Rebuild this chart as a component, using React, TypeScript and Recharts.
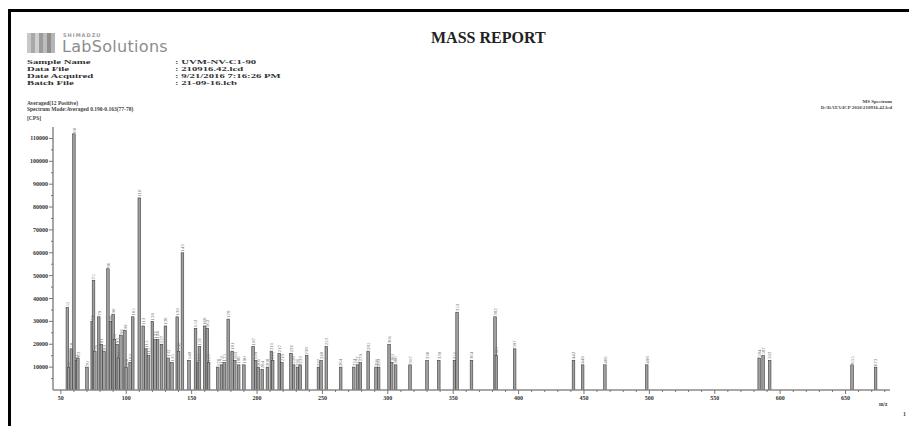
import { ComposedChart, Bar, XAxis, YAxis, LabelList } from 'recharts';

// peak list: m/z and intensity (cps)
const mzValues = [
  55, 56, 58, 60, 62, 63, 70, 74, 75, 76, 79, 81, 83, 86, 88, 90, 91, 93, 94, 96,
  99, 100, 103, 105, 110, 113, 115, 117, 120, 122, 124, 127, 130, 132, 135, 139, 140, 143, 148, 153,
  155, 156, 160, 162, 163, 170, 173, 175, 178, 181, 183, 186, 190, 197, 199, 201, 204, 208, 211, 212,
  217, 219, 226, 228, 231, 233, 238, 247, 249, 253, 264, 274, 277, 279, 285, 291, 293, 301, 303, 306,
  317, 330, 339, 351, 353, 364, 382, 383, 397, 442, 449, 466, 498, 584, 587, 592, 655, 673,
];
const intensities = [
  36000, 10000, 18000, 112000, 13000, 14000, 10000, 30000, 48000, 17000, 32000, 20000, 17000, 53000, 30000, 33000, 22000, 20000, 14000, 24000,
  26000, 10000, 12000, 32000, 84000, 28000, 18000, 15000, 30000, 22000, 22000, 20000, 28000, 14000, 12000, 32000, 17000, 60000, 13000, 27000,
  12000, 19000, 28000, 27000, 12000, 10000, 11000, 12000, 31000, 17000, 13000, 11000, 11000, 19000, 13000, 10000, 9000, 10000, 17000, 13000,
  16000, 12000, 16000, 11000, 10000, 11000, 15000, 10000, 13000, 19000, 10000, 10000, 11000, 12000, 17000, 10000, 10000, 20000, 12000, 11000,
  11000, 13000, 13000, 13000, 34000, 13000, 32000, 15000, 18000, 13000, 11000, 11000, 11000, 14000, 15000, 13000, 11000, 10000,
];

const xTicks = Array.from({ length: 64 }, (_, i) => 50 + i * 10);
const yTicks = Array.from({ length: 22 }, (_, i) => 5000 + i * 5000);

const infoLabels = ['Sample Name', 'Data File', 'Date Acquired', 'Batch File'];
const infoValues = [': UVM-NV-C1-90', ': 210916.42.lcd', ': 9/21/2016 7:16:26 PM', ': 21-09-16.lcb'];

const peaks = mzValues.map((mz, i) => ({ mz, cps: intensities[i] }));

const serif = '"Liberation Serif", "DejaVu Serif", serif';

function PeakShape(props: any) {
  const { x, y, width, height } = props;
  const cx = x + width / 2;
  return (
    <rect x={cx - 1.3} y={y} width={2.6} height={height} fill="#a0a0a0" stroke="#3c3c3c" strokeWidth={0.6} />
  );
}

function PeakLabel(props: any) {
  const { x, y, width, value } = props;
  const cx = x + width / 2 + 1.8;
  return (
    <text
      transform={`translate(${cx}, ${y - 1}) rotate(-90)`}
      fontSize={5}
      fontFamily={serif}
      fill="#707070"
    >
      {value}
    </text>
  );
}

function YTick(props: any) {
  const { x, y, payload } = props;
  const major = payload.value % 10000 === 0;
  return (
    <g>
      <line x1={x} x2={x - (major ? 4 : 2)} y1={y} y2={y} stroke="#777" strokeWidth={1} />
      {major && (
        <text x={x - 5} y={y + 2} textAnchor="end" fontSize={6} fontWeight="bold" fontFamily={serif} fill="#333">
          {payload.value}
        </text>
      )}
    </g>
  );
}

function XTick(props: any) {
  const { x, y, payload } = props;
  const major = payload.value % 50 === 0;
  return (
    <g>
      <line x1={x} x2={x} y1={y} y2={y + (major ? 4 : 2)} stroke="#777" strokeWidth={1} />
      {major && (
        <text x={x} y={y + 10} textAnchor="middle" fontSize={6} fontWeight="bold" fontFamily={serif} fill="#333">
          {payload.value}
        </text>
      )}
    </g>
  );
}

function Header() {
  const stripes = ['#c8c8c8', '#a8a8a8', '#d0d0d0', '#9c9c9c', '#bdbdbd', '#8f8f8f', '#b5b5b5'];
  return (
    <>
      <div style={{ position: 'absolute', left: 8, top: 9, width: 901, height: 417, borderTop: '3px solid #000', borderLeft: '3px solid #000', boxSizing: 'border-box' }} />
      <div style={{ position: 'absolute', left: 27, top: 33, display: 'flex', height: 20 }}>
        {stripes.map((c, i) => (
          <div key={i} style={{ width: 4, height: 20, background: c }} />
        ))}
      </div>
      <div style={{ position: 'absolute', left: 63, top: 32, fontFamily: '"DejaVu Sans", sans-serif', fontSize: 5, letterSpacing: 1, color: '#9a9a9a', fontWeight: 'bold' }}>
        SHIMADZU
      </div>
      <div style={{ position: 'absolute', left: 62, top: 37, fontFamily: '"DejaVu Sans", sans-serif', fontSize: 16, color: '#8c8c8c', letterSpacing: 0.3 }}>
        LabSolutions
      </div>
      <div style={{ position: 'absolute', left: 431, top: 29, fontFamily: serif, fontSize: 16, fontWeight: 'bold', color: '#222', whiteSpace: 'nowrap' }}>
        MASS REPORT
      </div>
      {infoLabels.map((label, i) => (
        <div key={label} style={{ position: 'absolute', left: 0, top: 58 + i * 7, height: 7, fontFamily: serif, fontSize: 6.5, fontWeight: 'bold', color: '#333', whiteSpace: 'nowrap', lineHeight: '7px' }}>
          <span style={{ position: 'absolute', left: 27, transform: 'scaleX(1.65)', transformOrigin: 'left' }}>{label}</span>
          <span style={{ position: 'absolute', left: 175, transform: 'scaleX(1.65)', transformOrigin: 'left' }}>{infoValues[i]}</span>
        </div>
      ))}
      <div style={{ position: 'absolute', left: 27, top: 100, fontFamily: serif, fontSize: 5.5, fontWeight: 'bold', color: '#444', lineHeight: '6px', whiteSpace: 'nowrap' }}>
        <div>Averaged(12 Positive)</div>
        <div>Spectrum Mode:Averaged 0.190-0.163(77-78)</div>
        <div style={{ marginTop: 3 }}>[CPS]</div>
      </div>
      <div style={{ position: 'absolute', right: 17, top: 99, fontFamily: serif, fontSize: 5, fontWeight: 'bold', color: '#444', lineHeight: '6px', textAlign: 'right', whiteSpace: 'nowrap' }}>
        <div>MS Spectrum</div>
        <div>D:\DATA\ICP 2016\210916.42.lcd</div>
      </div>
      <div style={{ position: 'absolute', left: 879, top: 401, fontFamily: serif, fontSize: 5.5, fontWeight: 'bold', color: '#444' }}>m/z</div>
      <div style={{ position: 'absolute', left: 903, top: 411, fontFamily: serif, fontSize: 6, fontWeight: 'bold', color: '#444' }}>1</div>
    </>
  );
}

export default function App() {
  return (
    <div style={{ position: 'absolute', left: 0, top: 0, width: 909, height: 426, background: '#fff', overflow: 'hidden' }}>
      <Header />
      <div style={{ position: 'absolute', left: 0, top: 0 }}>
        <ComposedChart width={909} height={426} data={peaks} margin={{ top: 127, right: 19, bottom: 0, left: 0 }}>
          <XAxis
            dataKey="mz"
            type="number"
            domain={[44, 684]}
            ticks={xTicks}
            interval={0}
            tick={<XTick />}
            tickSize={0}
            tickMargin={0}
            tickLine={false}
            height={36}
            stroke="#8a8a8a"
            strokeWidth={1.5}
            allowDataOverflow
          />
          <XAxis xAxisId="frame" orientation="top" height={0} tick={false} tickLine={false} stroke="#c4c4c4" strokeWidth={2} />
          <YAxis
            type="number"
            domain={[0, 115000]}
            ticks={yTicks}
            interval={0}
            tick={<YTick />}
            tickSize={0}
            tickMargin={0}
            tickLine={false}
            width={53}
            stroke="#8a8a8a"
            strokeWidth={1.5}
            allowDataOverflow
          />
          <YAxis yAxisId="frame" orientation="right" width={0} tick={false} tickLine={false} stroke="#c4c4c4" strokeWidth={2} />
          <Bar dataKey="cps" shape={<PeakShape />} isAnimationActive={false}>
            <LabelList dataKey="mz" content={<PeakLabel />} />
          </Bar>
        </ComposedChart>
      </div>
    </div>
  );
}
